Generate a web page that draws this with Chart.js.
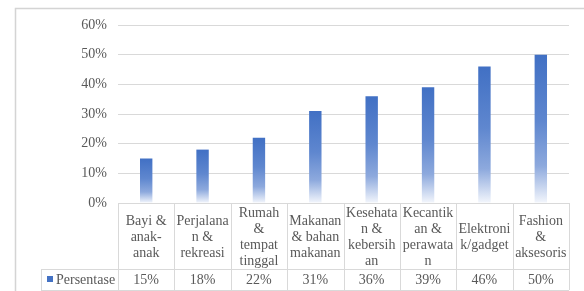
<!DOCTYPE html>
<html>
<head>
<meta charset="utf-8">
<title>Persentase</title>
<script src="https://cdn.jsdelivr.net/npm/chart.js@4.4.7/dist/chart.umd.min.js"></script>
<style>
    html, body { margin: 0; padding: 0; background: #ffffff; }
    canvas { display: block; }
</style>
</head>
<body>
<canvas id="bar" width="584" height="291"></canvas>
<script>

// Data
var categories = [
    ["Bayi &", "anak-", "anak"],
    ["Perjalana", "n &", "rekreasi"],
    ["Rumah", "&", "tempat", "tinggal"],
    ["Makanan", "& bahan", "makanan"],
    ["Kesehata", "n &", "kebersih", "an"],
    ["Kecantik", "an &", "perawata", "n"],
    ["Elektroni", "k/gadget"],
    ["Fashion", "&", "aksesoris"]
];
var seriesName = "Persentase";
var values = [15, 18, 22, 31, 36, 39, 46, 50];
var yTicks = [0, 10, 20, 30, 40, 50, 60];

var FONT = "'Liberation Serif', 'Times New Roman', serif";
var TEXT = "#595959";
var LINE = "#d9d9d9";
var BLUE = "#4472C4";

/*
 * Function: barGradient
 *
 * Description: Vertical gradient per bar, dark on top and fading to white at the base.
 */
function barGradient(context) {

    var chart = context.chart;
    var y = chart.scales.y;

    if (!chart.chartArea || !y || context.raw === undefined) {
        return BLUE;
    }

    var top = y.getPixelForValue(context.raw);
    var base = y.getPixelForValue(0);
    var g = chart.ctx.createLinearGradient(0, top, 0, base);
    g.addColorStop(0, "#4170C4");
    g.addColorStop(0.45, "#5F87CF");
    g.addColorStop(0.75, "#8DA9DD");
    g.addColorStop(1, "#F3F6FC");
    return g;
}

// Draws the chart border and the data table below the plot.
var tablePlugin = {
    id: 'dataTable',
    afterDraw: function(chart) {

        var ctx = chart.ctx;
        var x = chart.scales.x;
        var area = chart.chartArea;
        var n = categories.length;
        var colW = (x.right - x.left) / n;
        var rowTop = area.bottom;
        var rowMid = area.bottom + 66;
        var rowBot = rowMid + 21;
        var legendLeft = 41;

        ctx.save();

        // Outer chart border
        ctx.strokeStyle = "#d4d4d4";
        ctx.lineWidth = 1.5;
        ctx.beginPath();
        ctx.moveTo(15.5, 295);
        ctx.lineTo(15.5, 8.5);
        ctx.lineTo(590, 8.5);
        ctx.stroke();

        // Table lines
        ctx.strokeStyle = LINE;
        ctx.lineWidth = 1;
        ctx.beginPath();
        ctx.moveTo(x.left, rowTop + 0.5);
        ctx.lineTo(x.right, rowTop + 0.5);
        ctx.moveTo(legendLeft, rowMid + 0.5);
        ctx.lineTo(x.right, rowMid + 0.5);
        ctx.moveTo(legendLeft, rowBot + 0.5);
        ctx.lineTo(x.right, rowBot + 0.5);
        ctx.moveTo(legendLeft + 0.5, rowMid);
        ctx.lineTo(legendLeft + 0.5, rowBot);
        for (var i = 0; i <= n; i++) {
            var bx = Math.round(x.left + i * colW) + 0.5;
            ctx.moveTo(bx, rowTop);
            ctx.lineTo(bx, rowBot);
        }
        ctx.stroke();

        // Category labels, vertically centred in the cell
        ctx.fillStyle = TEXT;
        ctx.font = "14px " + FONT;
        ctx.textAlign = "center";
        ctx.textBaseline = "middle";
        var cellMid = (rowTop + rowMid) / 2 + 1;
        for (var c = 0; c < n; c++) {
            var cx = x.getPixelForValue(c);
            var lines = categories[c];
            var start = cellMid - (lines.length - 1) * 8;
            for (var l = 0; l < lines.length; l++) {
                ctx.fillText(lines[l], cx, start + l * 16);
            }
            ctx.fillText(values[c] + "%", cx, (rowMid + rowBot) / 2 + 1);
        }

        // Legend key and series name
        ctx.fillStyle = BLUE;
        ctx.fillRect(47, rowMid + 7, 6, 6);
        ctx.fillStyle = TEXT;
        ctx.textAlign = "left";
        ctx.fillText(seriesName, 56, (rowMid + rowBot) / 2 + 1);

        ctx.restore();
    }
};

var bar = new Chart(document.getElementById('bar'), {
    type: 'bar',
    data: {
        labels: categories,
        datasets: [{
            label: seriesName,
            data: values,
            backgroundColor: barGradient,
            borderWidth: 0,
            barPercentage: 0.22,
            categoryPercentage: 1
        }]
    },
    options: {
        responsive: false,
        animation: false,
        layout: {
            padding: { top: 25, left: 41, right: 15, bottom: 22 }
        },
        plugins: {
            legend: { display: false },
            tooltip: { enabled: false }
        },
        scales: {
            x: {
                grid: { display: false },
                border: { display: false },
                ticks: { display: false },
                afterFit: function(scale) { scale.height = 66; }
            },
            y: {
                min: yTicks[0],
                max: yTicks[yTicks.length - 1],
                afterBuildTicks: function(scale) {
                    scale.ticks = yTicks.map(function(v) { return { value: v }; });
                },
                afterFit: function(scale) { scale.width = 77; },
                grid: { color: LINE, drawTicks: false },
                border: { display: false },
                ticks: {
                    padding: 11,
                    color: TEXT,
                    font: { family: FONT, size: 14 },
                    callback: function(v) { return v + '%'; }
                }
            }
        }
    },
    plugins: [tablePlugin]
});

</script>
</body>
</html>
